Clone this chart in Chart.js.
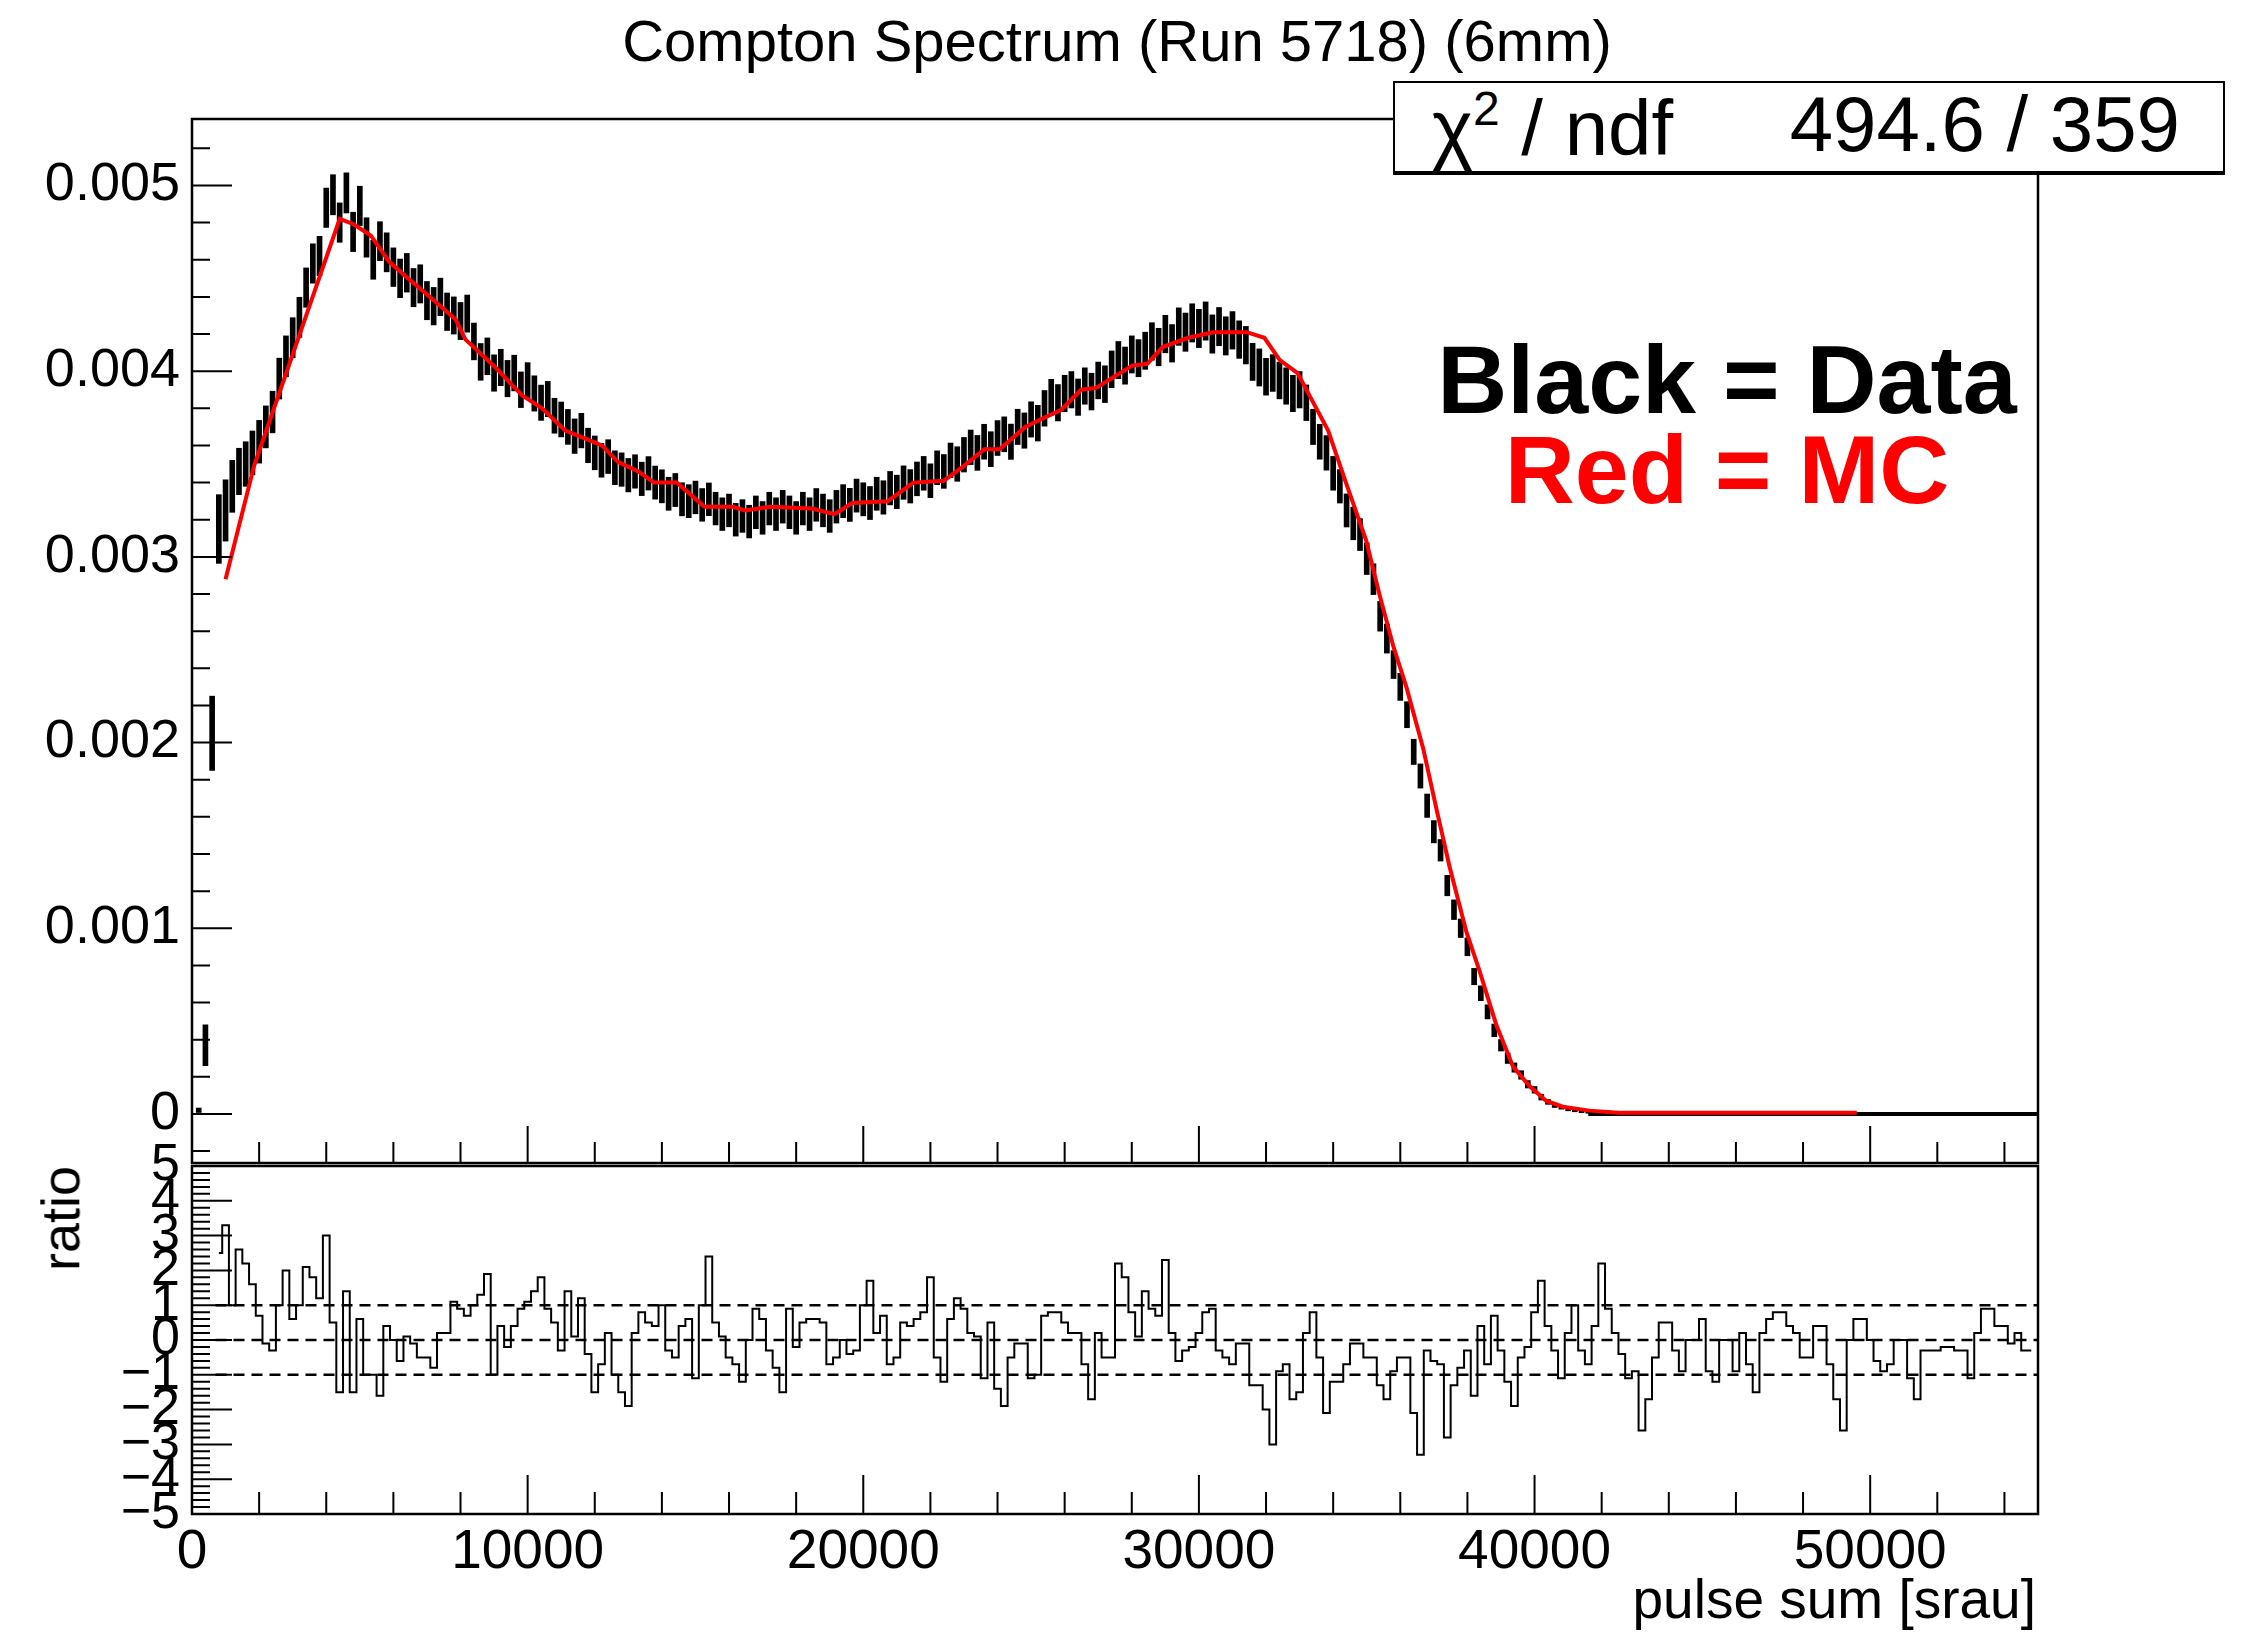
<!DOCTYPE html>
<html>
<head>
<meta charset="utf-8">
<title>Compton Spectrum (Run 5718) (6mm)</title>
<script src="https://cdn.jsdelivr.net/npm/chart.js@4.4.1/dist/chart.umd.min.js"></script>
<style>
  html, body { margin:0; padding:0; background:#fff; }
  body { width:2254px; height:1634px; position:relative; overflow:hidden;
         font-family:'Liberation Sans', Arial, sans-serif; color:#000; }
  canvas { position:absolute; left:0; }
  #top { top:0; }
  #bottom { top:1100px; }
  .txt { position:absolute; white-space:nowrap; line-height:1; }
  #statBox { position:absolute; left:1393px; top:81px; width:832px; height:94px;
             box-sizing:border-box; border:2px solid #000; border-bottom-width:4px; background:#fff; }
</style>
</head>
<body>
<canvas id="top" width="2254" height="1220"></canvas>
<canvas id="bottom" width="2254" height="534"></canvas>
<div id="statBox"></div>
<script>
// === COMPTON SPECTRUM : DATA vs MC + PULL PANEL === //

const FONT = "'Liberation Sans', Arial, sans-serif";
Chart.defaults.font.family = FONT;
Chart.defaults.color = '#000';

// ---- binning (pulse sum, srau) ---- //
const binWidth = 200;
const dataFirstBin = 200;
const ratioFirstBin = 800;
const unit = 1e-6;   // data / MC values below are in units of 1e-6

// normalised data, bins 200 .. 41600
const dataVals = [
  20, 370, 2050, 3150, 3250, 3380, 3460, 3500, 3560, 3620,
  3700, 3780, 3960, 4080, 4180, 4290, 4450, 4580, 4620, 4880,
  4950, 4800, 4960, 4750, 4890, 4720, 4600, 4700, 4640, 4560,
  4500, 4530, 4450, 4470, 4380, 4350, 4400, 4320, 4300, 4270,
  4310, 4160, 4050, 4080, 3990, 4020, 3960, 3990, 3900, 3950,
  3880, 3830, 3850, 3760, 3740, 3700, 3650, 3680, 3600, 3560,
  3520, 3540, 3480, 3470, 3440, 3460, 3420, 3450, 3400, 3380,
  3340, 3360, 3310, 3300, 3320, 3280, 3310, 3260, 3230, 3250,
  3200, 3220, 3190, 3240, 3210, 3260, 3230, 3270, 3240, 3210,
  3260, 3230, 3280, 3250, 3220, 3270, 3300, 3280, 3330, 3310,
  3290, 3340, 3320, 3370, 3350, 3400, 3380, 3420, 3450, 3410,
  3480, 3460, 3520, 3500, 3550, 3590, 3560, 3620, 3580, 3640,
  3660, 3620, 3700, 3680, 3740, 3720, 3800, 3860, 3830, 3880,
  3900, 3860, 3920, 3890, 3950, 3930, 4010, 4060, 4030, 4090,
  4070, 4110, 4160, 4130, 4200, 4150, 4240, 4210, 4260, 4230,
  4270, 4200, 4240, 4190, 4220, 4170, 4140, 4050, 4020, 3970,
  3990, 3950, 3920, 3880, 3900, 3830, 3700, 3620, 3560, 3450,
  3380, 3250, 3180, 3120, 2990, 2880, 2680, 2560, 2420, 2300,
  2150, 1950, 1820, 1660, 1520, 1420, 1230, 1100, 1000, 900,
  740, 650, 550, 450, 370, 300, 250, 210, 160, 130,
  90, 65, 45, 35, 25, 18, 12, 8
];
const dataErr = [
  12, 110, 200, 185, 165, 140, 125, 120, 118, 115,
  113, 112, 110, 110, 108, 108, 106, 106, 106, 106,
  108, 106, 108, 106, 106, 106, 105, 105, 105, 104,
  104, 104, 103, 103, 103, 101, 101, 101, 100, 100,
  100, 99, 99, 99, 98, 98, 98, 96, 96, 96,
  95, 95, 95, 94, 94, 94, 93, 93, 93, 91,
  91, 91, 91, 90, 90, 90, 90, 90, 89, 89,
  89, 89, 89, 89, 88, 88, 88, 88, 88, 88,
  88, 88, 88, 88, 88, 88, 88, 88, 88, 88,
  88, 88, 88, 88, 88, 88, 89, 89, 89, 89,
  89, 89, 90, 90, 90, 90, 90, 91, 91, 91,
  91, 91, 93, 93, 93, 93, 94, 94, 94, 94,
  94, 95, 95, 95, 95, 96, 96, 96, 98, 98,
  98, 98, 98, 99, 99, 99, 99, 100, 100, 100,
  100, 100, 101, 101, 101, 101, 101, 103, 103, 103,
  103, 103, 103, 103, 101, 101, 101, 100, 100, 99,
  99, 99, 98, 98, 98, 96, 95, 94, 93, 91,
  90, 89, 88, 86, 85, 83, 80, 78, 75, 73,
  70, 68, 65, 63, 60, 58, 55, 53, 50, 48,
  44, 40, 38, 34, 31, 28, 25, 23, 20, 18,
  15, 13, 10, 9, 8, 6, 5, 4
];

// MC prediction (red line)
const mcX = [
  1000, 1850, 4400, 4830, 5330, 5870, 6370, 6960, 7850, 8150,
  8450, 9040, 9830, 10430, 11120, 11810, 12210, 12700, 13300, 13760,
  14440, 15270, 16100, 16480, 17240, 18460, 19140, 19670, 20730, 21490,
  22400, 23000, 23610, 24060, 24830, 25280, 25890, 26490, 26940, 28010,
  28460, 28920, 29680, 30430, 31420, 31950, 32410, 32940, 33320, 33850,
  34380, 34980, 35390, 35790, 36180, 36680, 37080, 37470, 37970, 38360,
  38860, 39360, 39850, 40350, 40840, 41630, 42500, 49600
];
const mcY = [
  2880, 3490, 4820, 4790, 4730, 4590, 4510, 4420, 4280, 4170,
  4120, 4020, 3870, 3800, 3680, 3630, 3600, 3510, 3460, 3400,
  3400, 3270, 3270, 3250, 3270, 3260, 3230, 3290, 3300, 3400,
  3410, 3490, 3580, 3580, 3700, 3740, 3790, 3900, 3910, 4030,
  4040, 4130, 4180, 4210, 4210, 4180, 4060, 3990, 3860, 3680,
  3400, 3090, 2790, 2520, 2300, 1970, 1640, 1330, 980, 770,
  480, 255, 150, 70, 39, 18, 6, 6
];

// empty data bins, drawn flat at zero
const tailX = [41600, 55000];

// pull per bin, bins 800 .. 54800
const ratioVals = [
  2.5, 3.3, 1.0, 2.6, 2.2, 1.6, 0.7, -0.1, -0.3, 1.0,
  2.0, 0.6, 1.0, 2.1, 1.8, 1.2, 3.0, 0.5, -1.5, 1.4,
  -1.5, 0.6, -1.0, -1.0, -1.6, 0.4, 0.0, -0.6, 0.1, -0.1,
  -0.5, -0.5, -0.8, 0.2, 0.2, 1.1, 0.9, 0.7, 1.0, 1.3,
  1.9, -1.0, 0.4, -0.2, 0.4, 0.9, 1.1, 1.4, 1.8, 0.9,
  0.5, -0.3, 1.4, 0.1, 1.2, -0.4, -1.5, -0.7, 0.2, -1.0,
  -1.5, -1.9, 0.2, 0.8, 0.5, 0.4, 1.0, -0.3, -0.5, 0.4,
  0.6, -1.1, 1.0, 2.4, 0.5, 0.1, -0.5, -0.7, -1.2, 0.0,
  0.9, 0.6, -0.3, -0.8, -1.5, 0.9, -0.2, 0.5, 0.6, 0.6,
  0.5, -0.7, -0.5, 0.0, -0.4, -0.3, 1.0, 1.7, 0.2, 0.7,
  -0.7, -0.5, 0.5, 0.4, 0.6, 0.8, 1.8, -0.5, -1.2, 0.6,
  1.2, 0.9, 0.2, 0.1, -1.1, 0.5, -1.4, -1.9, -0.5, -0.1,
  -0.1, -1.1, -1.0, 0.7, 0.8, 0.8, 0.5, 0.2, 0.2, -0.7,
  -1.7, 0.2, -0.5, -0.5, 2.2, 1.8, 0.8, 0.1, 1.4, 0.9,
  0.7, 2.3, 0.2, -0.6, -0.3, -0.2, 0.2, 0.8, 0.9, -0.3,
  -0.5, -0.7, -0.1, -0.1, -1.3, -1.3, -2.0, -3.0, -0.9, -0.7,
  -1.7, -1.5, 0.2, 0.8, -0.5, -2.1, -1.2, -1.2, -0.7, -0.1,
  -0.1, -0.5, -0.5, -1.3, -1.7, -0.9, -0.5, -0.5, -2.1, -3.3,
  -0.3, -0.6, -0.7, -2.8, -1.3, -0.8, -0.3, -1.6, 0.4, -0.7,
  0.7, -0.3, -1.2, -1.9, -0.5, -0.2, 0.8, 1.7, 0.4, -0.3,
  -1.1, 0.2, 1.0, -0.3, -0.7, 0.4, 2.2, 0.9, 0.2, -0.4,
  -1.1, -0.9, -2.6, -1.7, -0.5, 0.5, 0.5, -0.3, -0.9, 0.0,
  0.0, 0.6, -0.9, -1.2, 0.0, 0.0, -0.9, 0.2, -0.7, -1.5,
  0.2, 0.6, 0.8, 0.8, 0.4, 0.2, -0.5, -0.5, 0.4, 0.4,
  -0.7, -1.7, -2.6, 0.0, 0.6, 0.6, 0.0, -0.6, -0.9, -0.7,
  0.0, 0.0, -1.1, -1.7, -0.3, -0.3, -0.3, -0.2, -0.2, -0.3,
  -0.3, -1.1, 0.2, 0.9, 0.9, 0.4, 0.4, -0.1, 0.2, -0.3,
  -0.3
];
const ratioRefs = [-1, 0, 1];
const ratioRefRange = [700, 55000];

// ---- axes ---- //
const xRange = [0, 55000];
const xLabels = [0, 10000, 20000, 30000, 40000, 50000];
const topYRange = [-0.000264, 0.005358];
const topYLabels = [0, 0.001, 0.002, 0.003, 0.004, 0.005];
const ratioYRange = [-5, 5];
const ratioYLabels = [-5, -4, -3, -2, -1, 0, 1, 2, 3, 4, 5];

function steps(from, to, step, skip) {
  const out = [];
  for (let v = from; v <= to + step / 2; v += step) {
    const r = Math.round(v / step) * step;
    if (!skip || !skip.some(s => Math.abs(s - r) < step / 10)) out.push(r);
  }
  return out;
}
const xMinor = steps(0, 54000, 2000, xLabels);

// ---- ROOT style frame : ticks drawn inside the pad ---- //
const rootFrame = {
  id: 'rootFrame',
  afterDatasetsDraw(chart, args, o) {
    const { ctx, chartArea: a } = chart;
    const x = chart.scales.x, y = chart.scales.y;
    ctx.save();
    ctx.strokeStyle = '#000';
    ctx.lineWidth = 2;
    ctx.beginPath();
    const tick = (px, py, dx, dy) => { ctx.moveTo(px, py); ctx.lineTo(px + dx, py + dy); };
    o.xMajor.forEach(v => tick(x.getPixelForValue(v), a.bottom, 0, -o.xMajorLen));
    o.xMinor.forEach(v => tick(x.getPixelForValue(v), a.bottom, 0, -o.xMinorLen));
    o.yMajor.forEach(v => tick(a.left, y.getPixelForValue(v), o.yMajorLen, 0));
    o.yMinor.forEach(v => tick(a.left, y.getPixelForValue(v), o.yMinorLen, 0));
    ctx.stroke();
    ctx.lineWidth = o.frameWidth;
    ctx.strokeRect(a.left, a.top, a.width, a.height);
    ctx.restore();
  }
};

const fixedTicks = list => s => { s.ticks = list.map(value => ({ value })); };

// ---- top pad : spectrum ---- //
const dataBars = dataVals.map((v, i) => ({
  x: dataFirstBin + i * binWidth,
  y: [(v - dataErr[i]) * unit, (v + dataErr[i]) * unit]
}));

new Chart(document.getElementById('top'), {
  type: 'bar',
  data: {
    datasets: [
      { type: 'line', data: mcX.map((x, i) => ({ x, y: mcY[i] * unit })),
        borderColor: '#ff0000', borderWidth: 4, pointRadius: 0, tension: 0, order: 1 },
      { type: 'line', data: tailX.map(x => ({ x, y: 0 })),
        borderColor: '#000', borderWidth: 4, pointRadius: 0, order: 2 },
      { type: 'bar', data: dataBars, backgroundColor: '#000', barThickness: 5, order: 3 }
    ]
  },
  options: {
    responsive: false, animation: false, devicePixelRatio: 1,
    layout: { padding: { left: 0, right: 216, top: 119, bottom: 57 } },
    plugins: {
      legend: { display: false }, tooltip: { enabled: false },
      rootFrame: {
        xMajor: xLabels, xMinor, xMajorLen: 37, xMinorLen: 21,
        yMajor: topYLabels, yMinor: steps(-0.0002, 0.0052, 0.0002, topYLabels),
        yMajorLen: 40, yMinorLen: 18, frameWidth: 2.5
      }
    },
    scales: {
      x: { type: 'linear', min: xRange[0], max: xRange[1], display: false, offset: false },
      y: {
        type: 'linear', min: topYRange[0], max: topYRange[1],
        afterFit: s => { s.width = 192; },
        afterBuildTicks: fixedTicks(topYLabels),
        grid: { display: false, drawTicks: false }, border: { display: false },
        ticks: { font: { size: 54 }, color: '#000', padding: 12, autoSkip: false,
                 callback: v => v === 0 ? '0' : v.toFixed(3) }
      }
    }
  },
  plugins: [rootFrame]
});

// ---- bottom pad : pull ---- //
new Chart(document.getElementById('bottom'), {
  type: 'line',
  data: {
    datasets: [
      { data: ratioVals.map((v, i) => ({ x: ratioFirstBin + i * binWidth, y: v })),
        borderColor: '#000', borderWidth: 2, pointRadius: 0, stepped: 'middle', order: 1 },
      ...ratioRefs.map(level => ({
        data: ratioRefRange.map(x => ({ x, y: level })),
        borderColor: '#000', borderWidth: 2.5, borderDash: [11, 7], pointRadius: 0, order: 2
      }))
    ]
  },
  options: {
    responsive: false, animation: false, devicePixelRatio: 1,
    layout: { padding: { left: 0, right: 216, top: 66, bottom: 0 } },
    plugins: {
      legend: { display: false }, tooltip: { enabled: false },
      rootFrame: {
        xMajor: xLabels, xMinor, xMajorLen: 39, xMinorLen: 22,
        yMajor: ratioYLabels, yMinor: steps(-5, 5, 0.2, ratioYLabels),
        yMajorLen: 40, yMinorLen: 18, frameWidth: 2.5
      }
    },
    scales: {
      x: {
        type: 'linear', min: xRange[0], max: xRange[1], offset: false,
        afterFit: s => { s.height = 120; },
        afterBuildTicks: fixedTicks(xLabels),
        grid: { display: false, drawTicks: false }, border: { display: false },
        ticks: { font: { size: 55 }, color: '#000', padding: 6, autoSkip: false,
                 maxRotation: 0, minRotation: 0, callback: v => String(v) }
      },
      y: {
        type: 'linear', min: ratioYRange[0], max: ratioYRange[1],
        afterFit: s => { s.width = 192; },
        afterBuildTicks: fixedTicks(ratioYLabels),
        grid: { display: false, drawTicks: false }, border: { display: false },
        ticks: { font: { size: 52 }, color: '#000', padding: 12, autoSkip: false,
                 callback: v => v < 0 ? '\u2212' + (-v) : String(v) }
      }
    }
  },
  plugins: [rootFrame]
});

// ---- texts (title, stats box, legend note, axis titles) ---- //
// baseline of Liberation Sans sits at 0.8465 em below the top of a line-height:1 box
function place(html, x, baseline, size, align, style) {
  const el = document.createElement('div');
  el.className = 'txt';
  el.innerHTML = html;
  el.style.fontSize = size + 'px';
  el.style.left = x + 'px';
  el.style.top = (baseline - 0.8465 * size) + 'px';
  if (align === 'center') el.style.transform = 'translateX(-50%)';
  if (align === 'right') el.style.transform = 'translateX(-100%)';
  Object.assign(el.style, style || {});
  document.body.appendChild(el);
  return el;
}

place('Compton Spectrum (Run 5718) (6mm)', 1117, 61, 58, 'center');
place('\u03c7<span style="font-size:48px;vertical-align:30px">2</span> / ndf', 1432, 151, 78, 'left');
place('494.6 / 359', 2180, 151, 78, 'right');
place('Black = Data', 1727, 413, 97, 'center', { fontWeight: 'bold' });
place('Red = MC', 1727, 503, 97, 'center', { fontWeight: 'bold', color: '#ff0000' });
place('pulse sum [srau]', 2036, 1619, 55, 'right');

// rotated y title of the pull pad, aligned to the top of the axis
const ratioTitle = place('ratio', 0, 0, 54, 'left');
const w = ratioTitle.offsetWidth;
ratioTitle.style.left = '0px';
ratioTitle.style.top = '0px';
ratioTitle.style.transformOrigin = '0 0';
ratioTitle.style.transform = `translate(${79 - 0.8465 * 54}px, ${1166 + w}px) rotate(-90deg)`;
</script>
</body>
</html>
